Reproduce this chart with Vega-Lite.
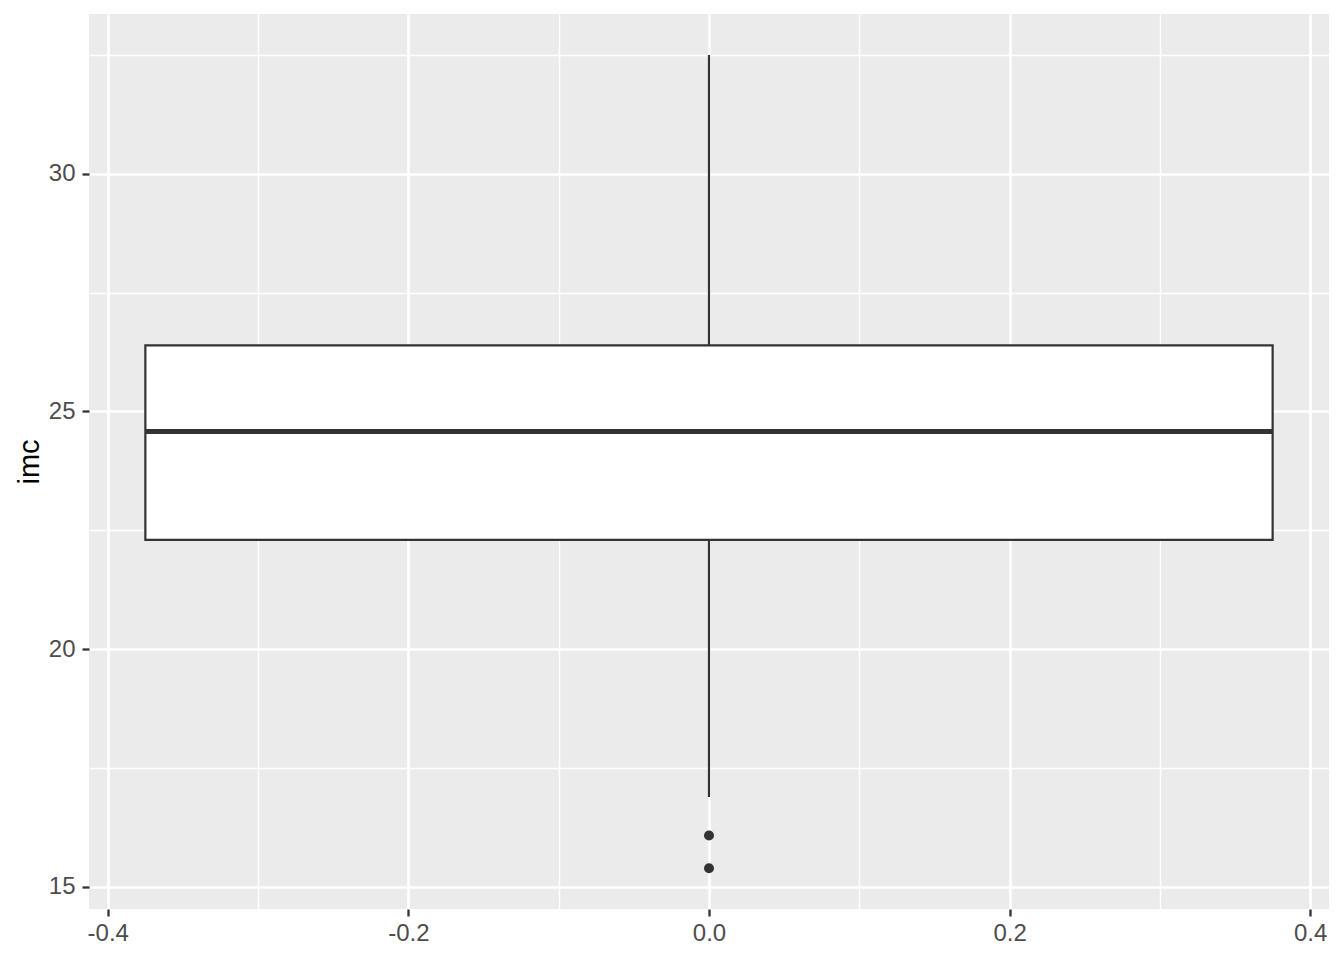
{
  "$schema": "https://vega.github.io/schema/vega-lite/v6.json",
  "width": 1240,
  "height": 895,
  "autosize": {"type": "none"},
  "padding": {"left": 89, "top": 14, "right": 15, "bottom": 51},
  "background": "white",
  "config": {
    "view": {"fill": "#EBEBEB", "stroke": null},
    "axis": {
      "domain": false,
      "gridColor": "white",
      "tickColor": "#333333",
      "tickSize": 7,
      "tickWidth": 2.3,
      "labelFont": "Liberation Sans",
      "labelFontSize": 24,
      "labelColor": "#4D4D4D",
      "labelOverlap": false,
      "labelFlush": false,
      "labelBound": false,
      "titleFont": "Liberation Sans",
      "titleFontSize": 29,
      "titleFontWeight": "normal",
      "titleColor": "black"
    }
  },
  "datasets": {
    "summary": [
      {"x": 0, "xmin": -0.375, "xmax": 0.375, "lower": 16.89, "q1": 22.3, "median": 24.58, "q3": 26.39, "upper": 32.5}
    ],
    "outliers": [
      {"x": 0, "imc": 16.08},
      {"x": 0, "imc": 15.39}
    ]
  },
  "layer": [
    {
      "data": {"name": "summary"},
      "mark": {"type": "rule", "color": "#333333", "strokeWidth": 2.2},
      "encoding": {
        "x": {
          "field": "x", "type": "quantitative",
          "scale": {"domain": [-0.4125, 0.4125], "nice": false, "zero": false},
          "axis": {
            "title": null,
            "values": [-0.4, -0.3, -0.2, -0.1, 0, 0.1, 0.2, 0.3, 0.4],
            "labelPadding": 5,
            "labelExpr": "abs(round(datum.value*10)) % 2 == 1 ? '' : (datum.value < -0.0001 ? '-' : '') + format(abs(datum.value), '.1f')",
            "tickOpacity": {"condition": {"test": "abs(round(datum.value*10)) % 2 == 1", "value": 0}, "value": 1},
            "gridWidth": {"condition": {"test": "abs(round(datum.value*10)) % 2 == 1", "value": 1.4}, "value": 2.7}
          }
        },
        "y": {
          "field": "lower", "type": "quantitative",
          "scale": {"domain": [14.534, 33.361], "nice": false, "zero": false},
          "axis": {
            "title": "imc",
            "titleX": -51,
            "titleBaseline": "alphabetic",
            "values": [15, 17.5, 20, 22.5, 25, 27.5, 30, 32.5],
            "labelPadding": 7,
            "labelExpr": "datum.value % 5 == 0 ? format(datum.value, 'd') : ''",
            "tickOpacity": {"condition": {"test": "datum.value % 5 != 0", "value": 0}, "value": 1},
            "gridWidth": {"condition": {"test": "datum.value % 5 != 0", "value": 1.4}, "value": 2.7}
          }
        },
        "y2": {"field": "upper"}
      }
    },
    {
      "data": {"name": "summary"},
      "mark": {"type": "rect", "fill": "white", "stroke": "#333333", "strokeWidth": 2.2},
      "encoding": {
        "x": {"field": "xmin", "type": "quantitative"},
        "x2": {"field": "xmax"},
        "y": {"field": "q1", "type": "quantitative"},
        "y2": {"field": "q3"}
      }
    },
    {
      "data": {"name": "summary"},
      "mark": {"type": "rule", "color": "#333333", "strokeWidth": 5},
      "encoding": {
        "x": {"field": "xmin", "type": "quantitative"},
        "x2": {"field": "xmax"},
        "y": {"field": "median", "type": "quantitative"}
      }
    },
    {
      "data": {"name": "outliers"},
      "mark": {"type": "circle", "color": "#333333", "opacity": 1, "size": 100},
      "encoding": {
        "x": {"field": "x", "type": "quantitative"},
        "y": {"field": "imc", "type": "quantitative"}
      }
    }
  ]
}
